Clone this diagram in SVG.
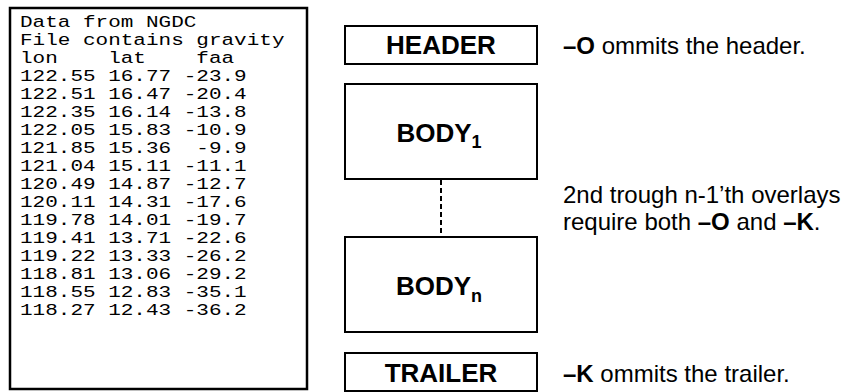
<svg xmlns="http://www.w3.org/2000/svg" width="851" height="392" viewBox="0 0 851 392">
  <style>
    .panel { fill: #fff; stroke: #000; stroke-width: 2.5; }
    .box { fill: #fff; stroke: #000; stroke-width: 2; }
    .mono { font-family: "Liberation Mono", "Courier New", monospace; font-size: 17px; fill: #000; }
    .label { font-family: "Liberation Sans", Arial, sans-serif; font-size: 26px; font-weight: bold; text-anchor: middle; fill: #000; }
    .sub { font-size: 18px; }
    .note { font-family: "Liberation Sans", Arial, sans-serif; font-size: 24px; fill: #000; }
    .b { font-weight: bold; }
    .dash { stroke: #000; stroke-width: 2; stroke-dasharray: 5 3; fill: none; }
  </style>

  <!-- sample data file listing (wide monospace, stretched horizontally) -->
  <g id="datafile">
    <rect class="panel" x="10" y="8" width="297" height="381"/>
    <g transform="scale(1.235,1)">
      <text class="mono">
        <tspan x="16.2" y="27">Data from NGDC</tspan>
        <tspan x="16.2" y="45">File contains gravity</tspan>
        <tspan x="16.2" y="63" xml:space="preserve">lon    lat    faa</tspan>
        <tspan x="16.2" y="81">122.55 16.77 -23.9</tspan>
        <tspan x="16.2" y="99">122.51 16.47 -20.4</tspan>
        <tspan x="16.2" y="117">122.35 16.14 -13.8</tspan>
        <tspan x="16.2" y="135">122.05 15.83 -10.9</tspan>
        <tspan x="16.2" y="153" xml:space="preserve">121.85 15.36  -9.9</tspan>
        <tspan x="16.2" y="171">121.04 15.11 -11.1</tspan>
        <tspan x="16.2" y="189">120.49 14.87 -12.7</tspan>
        <tspan x="16.2" y="207">120.11 14.31 -17.6</tspan>
        <tspan x="16.2" y="225">119.78 14.01 -19.7</tspan>
        <tspan x="16.2" y="243">119.41 13.71 -22.6</tspan>
        <tspan x="16.2" y="261">119.22 13.33 -26.2</tspan>
        <tspan x="16.2" y="279">118.81 13.06 -29.2</tspan>
        <tspan x="16.2" y="297">118.55 12.83 -35.1</tspan>
        <tspan x="16.2" y="315">118.27 12.43 -36.2</tspan>
      </text>
    </g>
  </g>

  <!-- connectors -->
  <g id="connectors">
    <line class="dash" x1="441" y1="180" x2="441" y2="237"/>
  </g>

  <!-- file sections -->
  <g id="header">
    <rect class="box" x="345" y="26" width="192" height="38"/>
    <text class="label" x="441" y="54">HEADER</text>
  </g>
  <g id="body1">
    <rect class="box" x="345" y="84" width="192" height="95"/>
    <text class="label" x="439" y="142">BODY<tspan class="sub" dy="6">1</tspan></text>
  </g>
  <g id="bodyn">
    <rect class="box" x="345" y="237" width="192" height="95"/>
    <text class="label" x="439" y="295">BODY<tspan class="sub" dy="7">n</tspan></text>
  </g>
  <g id="trailer">
    <rect class="box" x="345" y="353" width="192" height="38"/>
    <text class="label" x="441" y="382">TRAILER</text>
  </g>

  <!-- notes -->
  <g id="notes">
    <text class="note" x="563" y="54"><tspan class="b">–O</tspan> ommits the header.</text>
    <text class="note" x="563" y="203">2nd trough n-1’th overlays</text>
    <text class="note" x="563" y="230">require both <tspan class="b">–O</tspan> and <tspan class="b">–K</tspan>.</text>
    <text class="note" x="563" y="382"><tspan class="b">–K</tspan> ommits the trailer.</text>
  </g>
</svg>
